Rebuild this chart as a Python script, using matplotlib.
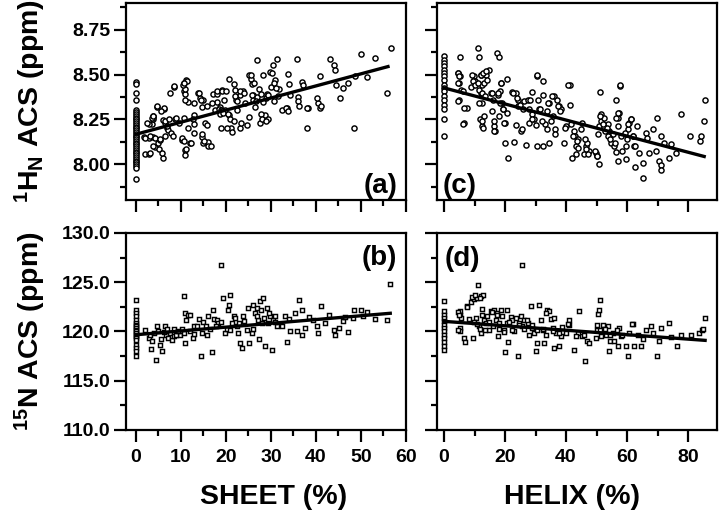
import matplotlib
matplotlib.use('Agg')
import matplotlib.pyplot as plt
from matplotlib.ticker import MultipleLocator, FormatStrFormatter

plt.rcParams['font.family'] = ['Liberation Sans', 'DejaVu Sans']
plt.rcParams['font.weight'] = 'bold'
plt.rcParams['mathtext.fontset'] = 'custom'
plt.rcParams['mathtext.rm'] = 'Liberation Sans:bold'
plt.rcParams['mathtext.bf'] = 'Liberation Sans:bold'
plt.rcParams['mathtext.it'] = 'Liberation Sans:bold'

# ---------------- data ----------------
# (a) SHEET % vs 1H_N ACS
a_strip_y = [8.46, 8.45, 8.40, 8.36, 8.30, 8.29, 8.28, 8.27, 8.26, 8.25, 8.24, 8.23, 8.22,
             8.21, 8.20, 8.19, 8.18, 8.17, 8.16, 8.15, 8.14, 8.13, 8.12, 8.11, 8.10, 8.09,
             8.08, 8.07, 8.06, 8.05, 8.04, 8.03, 8.02, 8.01, 8.00, 7.99, 7.98, 7.92]
a_sheet = [1.9, 2.8, 2.1, 3.0, 3.2, 3.6, 3.0, 4.7, 6.3, 3.8, 3.9, 4.3, 4.8, 5.4, 6.0, 6.1, 6.5,
           6.9, 7.2, 7.6, 8.5, 8.7, 7.8, 8.2, 9.5, 10.2, 10.6, 10.7, 10.9, 11.2, 11.5, 10.9,
           10.9, 11.5, 12.1, 12.8, 12.9, 13.9, 14.3, 14.6, 15.0, 14.6, 14.8, 15.4, 15.9, 16.1,
           16.1, 17.2, 17.6, 18.0, 18.1, 18.7, 19.1, 19.5, 19.8, 20.6, 20.6, 21.1, 21.3, 21.7,
           22.0, 22.3, 22.4, 23.2, 23.2, 23.9, 24.3, 24.6, 25.2, 25.2, 25.5, 25.7, 26.1, 26.5,
           26.9, 27.0, 27.4, 27.6, 28.2, 28.3, 28.7, 29.1, 29.4, 29.8, 30.0, 30.4, 30.9, 31.3,
           31.7, 32.4, 33.5, 33.7, 33.9, 34.2, 35.7, 36.1, 36.8, 37.2, 37.9, 38.3, 40.5, 40.9,
           40.8, 43.1, 43.9, 44.2, 44.5, 45.3, 45.9, 47.2, 48.5, 48.7, 50.0, 51.3, 53.1, 56.7,
           55.8, 3.7, 3.7, 18.5, 18.9, 19.2, 10.8, 10.5, 27.8, 28.8, 26.0,
           2.5, 3.6, 3.9, 4.7, 6.2, 5.5, 6.4, 6.9, 7.3, 2.1, 3.2, 4.3, 5.4, 6.5, 3.9, 5.1, 5.8,
           10.3, 10.7, 11.1, 12.2, 12.9, 14.7, 15.1, 16.6, 8.8, 10.7, 12.6, 13.0, 11.0, 11.4,
           10.7, 8.4, 14.0, 14.4, 15.8, 16.9, 18.1, 19.2, 20.0, 18.7, 19.3, 20.4, 20.8, 18.8,
           20.3, 21.8, 23.3, 22.1, 23.2, 24.0, 22.5, 25.5, 26.2, 25.8, 26.6, 27.7, 28.1, 28.9,
           29.3, 30.3, 30.7, 31.1, 31.5, 30.7, 33.3, 33.7, 35.9, 36.3, 38.1, 40.3, 41.1]
a_hn = [8.150, 8.145, 8.056, 8.056, 8.065, 8.224, 8.224, 8.320, 8.310, 8.265, 8.153, 8.098,
        8.117, 8.135, 8.033, 8.246, 8.228, 8.200, 8.190, 8.400, 8.430, 8.255, 8.172, 8.157,
        8.230, 8.135, 8.454, 8.410, 8.390, 8.470, 8.350, 8.080, 8.050, 8.200, 8.117, 8.274,
        8.340, 8.398, 8.367, 8.320, 8.357, 8.154, 8.117, 8.228, 8.219, 8.126, 8.102, 8.394,
        8.302, 8.348, 8.394, 8.320, 8.417, 8.357, 8.302, 8.478, 8.274, 8.200, 8.181, 8.450,
        8.413, 8.357, 8.302, 8.385, 8.200, 8.407, 8.339, 8.219, 8.265, 8.496, 8.478, 8.450,
        8.385, 8.320, 8.580, 8.376, 8.422, 8.228, 8.496, 8.348, 8.274, 8.394, 8.255, 8.515,
        8.432, 8.552, 8.469, 8.589, 8.422, 8.302, 8.311, 8.506, 8.450, 8.385, 8.589, 8.376,
        8.459, 8.441, 8.200, 8.311, 8.339, 8.311, 8.491, 8.589, 8.552, 8.528, 8.441, 8.367,
        8.428, 8.454, 8.200, 8.491, 8.617, 8.487, 8.594, 8.650, 8.400, 8.270, 8.255, 8.310,
        8.300, 8.295, 8.420, 8.440, 8.390, 8.370, 8.360,
        8.232, 8.259, 8.268, 8.324, 8.315, 8.296, 8.240, 8.213, 8.250, 8.148, 8.157, 8.148,
        8.139, 8.157, 8.102, 8.083, 8.065, 8.148, 8.130, 8.083, 8.120, 8.176, 8.167, 8.130,
        8.102, 8.259, 8.259, 8.250, 8.222, 8.361, 8.463, 8.454, 8.435, 8.398, 8.361, 8.324,
        8.343, 8.407, 8.407, 8.407, 8.278, 8.287, 8.278, 8.250, 8.204, 8.204, 8.241, 8.232,
        8.380, 8.407, 8.398, 8.352, 8.500, 8.454, 8.389, 8.352, 8.278, 8.250, 8.241, 8.389,
        8.509, 8.454, 8.426, 8.380, 8.352, 8.315, 8.296, 8.352, 8.324, 8.315, 8.370, 8.324]
a_fit = [8.167, 8.545]          # fitted line values at sheet = 0 and 56
a_fit_x = [0.0, 56.0]

# (c) HELIX % vs 1H_N ACS
c_strip_y = [8.602, 8.583, 8.565, 8.546, 8.528, 8.509, 8.491, 8.472, 8.444, 8.426, 8.407,
             8.380, 8.361, 8.333, 8.306, 8.250, 8.157]
c_helix = [5.3, 4.6, 5.3, 4.9, 5.5, 4.9, 6.6, 7.4, 8.8, 9.8, 10.3, 11.2, 11.4, 12.0, 12.6, 13.1,
           12.0, 12.3, 11.8, 12.6, 13.1, 13.7, 14.8, 14.2, 15.3, 15.9, 16.4, 16.6, 17.5, 18.1,
           17.7, 18.4, 18.8, 19.1, 19.5, 20.6, 20.8, 19.9, 18.1, 20.0, 21.0, 22.4, 23.5, 24.3,
           24.1, 23.0, 23.5, 25.2, 26.3, 27.4, 27.0, 27.9, 28.7, 29.0, 29.5, 30.1, 30.6, 30.6,
           30.9, 31.2, 32.3, 32.5, 32.6, 33.0, 33.7, 34.5, 34.5, 35.0, 35.9, 36.3, 37.2, 37.7,
           38.3, 39.2, 39.9, 41.3, 41.4, 41.6, 41.8, 42.5, 42.9, 43.2, 43.2, 43.8, 44.9, 45.4,
           45.9, 46.5, 47.0, 47.6, 49.8, 50.3, 50.9, 50.9, 51.2, 51.4, 51.6, 52.5, 53.6, 54.2,
           54.5, 54.7, 55.8, 56.3, 56.9, 57.1, 57.4, 57.8, 57.1, 56.3, 58.0, 58.5, 59.6, 60.0,
           60.2, 60.7, 61.3, 61.8, 62.4, 62.6, 63.2, 64.0, 65.1, 65.4, 66.2, 66.7, 67.3, 68.4,
           69.8, 69.5, 70.6, 71.1, 71.3, 71.3, 72.0, 73.9, 74.4, 76.0, 77.7, 80.7, 84.0, 84.2,
           85.1, 85.6,
           4.7, 5.0, 4.7, 4.7, 6.3, 6.6, 6.3, 9.1, 9.6, 10.0, 11.1, 11.6, 12.0, 12.8, 13.8,
           12.4, 13.5, 11.6, 12.4, 12.8, 15.6, 15.7, 17.7, 18.3, 18.8, 19.2, 19.8, 16.3, 16.3,
           22.7, 23.8, 24.9, 26.0, 25.5, 27.7, 28.3, 28.8, 30.4, 31.5, 32.1, 33.7, 34.2, 35.3,
           35.8, 36.4, 37.5, 38.0, 39.7, 40.8, 42.4, 43.5, 44.0, 46.1, 46.7, 47.2, 49.5, 50.0,
           50.6, 51.1, 52.2, 52.7, 53.3, 53.8, 54.3, 55.4, 55.9, 56.5, 57.0, 57.6, 59.2, 59.8,
           60.3, 61.4, 62.0, 62.5]
c_hn = [8.598, 8.509, 8.491, 8.454, 8.417, 8.361, 8.228, 8.315, 8.431, 8.491, 8.463, 8.648,
        8.596, 8.500, 8.444, 8.454, 8.398, 8.343, 8.250, 8.213, 8.269, 8.500, 8.524, 8.472,
        8.398, 8.361, 8.213, 8.185, 8.620, 8.598, 8.389, 8.407, 8.454, 8.343, 8.306, 8.476,
        8.287, 8.231, 8.269, 8.117, 8.037, 8.402, 8.398, 8.361, 8.324, 8.124, 8.217, 8.185,
        8.352, 8.361, 8.109, 8.306, 8.278, 8.402, 8.250, 8.217, 8.494, 8.102, 8.361, 8.306,
        8.463, 8.102, 8.389, 8.222, 8.296, 8.343, 8.117, 8.241, 8.380, 8.194, 8.361, 8.324,
        8.306, 8.117, 8.213, 8.444, 8.331, 8.222, 8.037, 8.185, 8.157, 8.102, 8.056, 8.139,
        8.194, 8.231, 8.056, 8.102, 8.120, 8.074, 8.065, 8.046, 8.000, 8.213, 8.402, 8.278,
        8.241, 8.259, 8.222, 8.185, 8.157, 8.120, 8.102, 8.361, 8.259, 8.213, 8.287, 8.435,
        8.019, 8.069, 8.157, 8.074, 8.028, 8.139, 8.194, 8.228, 8.254, 8.157, 8.102, 7.987,
        8.213, 8.065, 7.922, 8.009, 8.176, 8.148, 8.065, 8.194, 8.256, 8.074, 8.019, 7.996,
        8.157, 7.969, 8.120, 8.037, 8.111, 8.065, 8.278, 8.157, 8.130, 8.157, 8.241, 8.361,
        8.509, 8.491, 8.454, 8.352, 8.407, 8.315, 8.222, 8.500, 8.463, 8.444, 8.454, 8.417,
        8.500, 8.509, 8.519, 8.398, 8.380, 8.343, 8.241, 8.204, 8.398, 8.296, 8.398, 8.343,
        8.454, 8.306, 8.232, 8.241, 8.185, 8.398, 8.370, 8.333, 8.306, 8.194, 8.232, 8.361,
        8.250, 8.500, 8.306, 8.241, 8.194, 8.343, 8.380, 8.269, 8.167, 8.324, 8.296, 8.204,
        8.444, 8.157, 8.130, 8.093, 8.139, 8.083, 8.056, 8.074, 8.046, 8.167, 8.269, 8.222,
        8.185, 8.204, 8.157, 8.139, 8.167, 8.120, 8.259, 8.287, 8.444, 8.176, 8.102, 8.222,
        8.250, 8.157, 8.102]
c_fit = [8.426, 8.043]
c_fit_x = [0.0, 85.3]

# (b) SHEET % vs 15N ACS
b_strip_y = [123.2, 122.21, 121.87, 121.53, 121.2, 120.86, 120.7, 120.52, 120.35, 120.18,
             120.0, 119.84, 119.67, 119.5, 119.33, 119.16, 118.66, 118.32, 117.98, 117.47]
b_sheet = [2.1, 2.8, 3.2, 3.6, 3.4, 4.5, 4.7, 5.0, 5.3, 5.8, 6.5, 6.7, 7.2, 7.6, 8.0, 8.4, 8.5,
           9.8, 10.2, 10.6, 10.7, 10.8, 11.0, 11.2, 11.5, 12.1, 12.6, 12.9, 13.5, 14.0, 14.4,
           14.6, 15.0, 15.6, 15.9, 16.1, 16.9, 17.2, 17.4, 18.0, 18.3, 18.9, 19.3, 19.8, 20.2,
           20.4, 20.6, 20.9, 21.3, 21.7, 22.0, 22.4, 22.6, 23.2, 23.5, 23.7, 24.6, 25.0, 25.2,
           25.7, 26.1, 26.5, 26.9, 27.2, 27.4, 27.6, 27.9, 28.3, 28.5, 28.7, 29.1, 29.4, 29.8,
           30.2, 30.5, 30.9, 31.3, 32.4, 33.1, 33.5, 34.2, 35.4, 36.3, 36.9, 35.7, 36.9, 37.6,
           39.4, 40.2, 40.4, 41.1, 43.0, 43.9, 44.2, 45.2, 46.1, 47.2, 48.4, 48.3, 49.9, 51.3,
           53.1, 56.5, 55.8,
           4.0, 5.5, 6.2, 7.0, 8.8, 9.3, 12.0, 13.0, 16.5, 17.8, 19.0, 21.0, 22.8, 24.0, 26.0,
           27.0, 28.0, 29.6, 31.0, 34.0, 38.5, 42.0, 46.5, 50.5]
b_n15 = [120.18, 119.33, 119.67, 118.99, 118.22, 117.06, 120.59, 120.01, 118.66, 117.98,
         120.52, 119.67, 119.33, 119.84, 119.16, 120.25, 119.50, 119.67, 120.25, 123.57,
         119.84, 118.82, 121.87, 121.20, 121.70, 121.70, 119.33, 120.52, 120.59, 121.26,
         117.47, 119.84, 120.93, 120.52, 119.67, 121.53, 117.88, 122.14, 121.26, 121.20,
         120.86, 126.78, 123.40, 119.84, 120.25, 122.21, 122.72, 123.74, 120.86, 121.53,
         121.36, 120.52, 119.84, 118.82, 118.32, 121.53, 120.18, 122.38, 118.82, 119.84,
         122.72, 121.87, 122.38, 121.20, 119.23, 123.06, 122.21, 123.40, 121.36, 118.49,
         122.38, 120.86, 121.53, 118.15, 121.20, 121.53, 120.52, 120.52, 121.53, 118.89,
         120.01, 121.87, 123.16, 122.14, 120.01, 119.67, 120.35, 121.20, 120.59, 119.84,
         122.55, 121.70, 120.18, 119.67, 120.35, 121.02, 119.91, 122.21, 121.36, 122.14,
         121.94, 121.26, 124.80, 121.20,
         119.8, 119.2, 119.9, 120.3, 119.6, 120.1, 120.0, 119.7, 120.3, 120.6, 121.0, 120.2,
         120.9, 121.1, 120.3, 121.6, 120.9, 121.9, 121.0, 121.3, 121.5, 120.9, 121.5, 121.6]
b_fit = [119.67, 121.85]
b_fit_x = [0.0, 56.5]

# (d) HELIX % vs 15N ACS
d_strip_y = [123.13, 122.04, 121.70, 121.36, 121.03, 120.69, 120.35, 120.01, 119.67, 119.33,
             118.89, 118.49, 118.15]
d_helix = [5.3, 5.3, 5.5, 5.3, 5.3, 6.6, 6.8, 7.4, 8.2, 8.8, 9.4, 9.8, 10.4, 10.9, 11.3, 11.5,
           12.0, 12.0, 12.6, 12.9, 13.1, 13.7, 14.2, 14.8, 15.3, 15.9, 16.4, 17.0, 17.5, 17.7,
           18.1, 18.6, 19.1, 19.7, 19.9, 20.6, 20.8, 21.1, 21.9, 22.4, 23.0, 23.5, 24.1, 24.6,
           25.2, 25.5, 25.7, 26.3, 27.4, 27.9, 28.4, 29.0, 29.5, 30.1, 30.6, 31.2, 31.7, 32.3,
           32.8, 33.4, 33.9, 34.4, 35.0, 35.6, 36.1, 36.1, 36.7, 37.7, 38.3, 38.8, 39.9, 41.0,
           41.0, 42.5, 43.8, 44.3, 45.4, 45.9, 46.3, 47.0, 47.6, 49.8, 50.1, 50.5, 50.9, 51.2,
           51.4, 52.0, 52.5, 53.1, 53.6, 54.2, 54.5, 55.3, 55.8, 56.9, 57.4, 58.0, 59.6, 60.2,
           60.7, 61.8, 62.4, 63.5, 64.6, 65.1, 66.2, 67.8, 68.4, 69.8, 70.6, 71.1, 73.9, 74.4,
           76.4, 77.7, 81.0, 83.7, 84.5, 85.6, 84.9,
           4.7, 5.0, 4.7, 7.4, 9.1, 10.2, 11.8, 9.7, 10.9, 11.9, 12.5, 13.6, 14.7, 15.8, 17.4,
           18.0, 19.6, 21.3, 22.4, 24.5, 26.2, 27.3, 28.9, 30.6, 32.3, 33.4, 35.6, 37.8, 40.6,
           43.3, 50.1, 51.2, 52.8, 54.5, 56.7, 58.4, 61.6]
d_n15 = [122.04, 121.70, 121.36, 120.35, 120.01, 119.33, 118.89, 122.55, 121.26, 122.96,
         119.33, 123.29, 121.36, 123.40, 124.75, 120.52, 123.57, 119.84, 122.28, 123.74,
         121.20, 120.86, 121.53, 120.18, 122.04, 120.52, 122.14, 121.20, 121.87, 119.50,
         120.86, 122.21, 121.53, 120.18, 117.88, 122.14, 120.86, 118.89, 121.47, 121.20,
         120.01, 121.36, 117.47, 120.86, 121.53, 126.78, 120.52, 121.20, 120.86, 119.67,
         122.55, 120.35, 119.84, 118.00, 118.82, 122.72, 121.20, 120.18, 118.82, 119.67,
         122.21, 122.04, 121.26, 120.35, 121.36, 118.32, 119.84, 118.49, 119.50, 120.45,
         119.84, 121.20, 120.69, 118.15, 119.84, 122.04, 119.50, 119.67, 116.96, 118.99,
         118.82, 119.33, 120.18, 121.80, 122.21, 123.23, 119.50, 120.69, 120.18, 119.67,
         120.52, 118.00, 118.99, 119.84, 118.99, 118.49, 120.35, 119.50, 118.49, 117.47,
         119.84, 120.79, 118.49, 119.67, 118.49, 119.20, 120.18, 120.52, 119.84, 117.54,
         118.99, 120.35, 120.86, 119.43, 118.55, 119.67, 119.67, 119.84, 120.18, 121.36,
         120.25,
         122.02, 121.68, 120.16, 122.53, 123.54, 123.70, 123.37, 120.98, 120.80, 120.30,
         121.68, 120.16, 120.98, 122.02, 121.68, 120.30, 119.96, 120.98, 120.16, 120.64,
         120.30, 121.14, 120.64, 120.16, 120.30, 121.85, 120.00, 119.82, 120.80, 119.50,
         120.67, 120.16, 120.30, 119.65, 120.16, 119.65, 120.80]
d_fit = [121.03, 119.10]
d_fit_x = [0.0, 85.6]

sheet_ticks = [0, 10, 20, 30, 40, 50, 60]
helix_ticks = [0, 20, 40, 60, 80]
hn_ticks = [8.00, 8.25, 8.50, 8.75]
n15_ticks = [110.0, 115.0, 120.0, 125.0, 130.0]

# ---------------- figure ----------------
W, H = 720, 514
fig = plt.figure(figsize=(W / 100, H / 100), dpi=100)

def rect(x0, y0, x1, y1):
    return [x0 / W, 1 - y1 / H, (x1 - x0) / W, (y1 - y0) / H]

ax_a = fig.add_axes(rect(126, 3, 406, 200))
ax_c = fig.add_axes(rect(437, 3, 717, 200))
ax_b = fig.add_axes(rect(126, 233, 406, 430))
ax_d = fig.add_axes(rect(437, 233, 717, 430))

def style(ax):
    for s in ax.spines.values():
        s.set_linewidth(1.6)
    ax.tick_params(which='both', direction='out', width=1.6, labelsize=14)
    ax.tick_params(axis='x', which='major', length=8.5, pad=5)
    ax.tick_params(axis='x', which='minor', length=4)
    ax.tick_params(axis='y', which='major', length=8.5, pad=3)
    ax.tick_params(axis='y', which='minor', length=4)
    for lab in ax.get_xticklabels() + ax.get_yticklabels():
        lab.set_fontweight('bold')

circ = dict(marker='o', ms=3.7, mfc='white', mec='black', mew=1.05, ls='none', zorder=3)
sq = dict(marker='s', ms=3.4, mfc='white', mec='black', mew=1.05, ls='none', zorder=3)

ax_a.plot([0] * len(a_strip_y), a_strip_y, **circ)
ax_a.plot(a_sheet, a_hn, **circ)
ax_a.plot(a_fit_x, a_fit, color='black', lw=2.4, zorder=4)

ax_c.plot([0] * len(c_strip_y), c_strip_y, **circ)
ax_c.plot(c_helix, c_hn, **circ)
ax_c.plot(c_fit_x, c_fit, color='black', lw=2.4, zorder=4)

ax_b.plot([0] * len(b_strip_y), b_strip_y, **sq)
ax_b.plot(b_sheet, b_n15, **sq)
ax_b.plot(b_fit_x, b_fit, color='black', lw=2.4, zorder=4)

ax_d.plot([0] * len(d_strip_y), d_strip_y, **sq)
ax_d.plot(d_helix, d_n15, **sq)
ax_d.plot(d_fit_x, d_fit, color='black', lw=2.4, zorder=4)

for ax in (ax_a, ax_b):
    ax.set_xlim(-2.2, 60)
    ax.set_xticks(sheet_ticks)
    ax.xaxis.set_minor_locator(MultipleLocator(5))
for ax in (ax_c, ax_d):
    ax.set_xlim(-2.3, 89.5)
    ax.set_xticks(helix_ticks)
    ax.xaxis.set_minor_locator(MultipleLocator(10))
for ax in (ax_a, ax_c):
    ax.set_ylim(7.8, 8.9)
    ax.set_yticks(hn_ticks)
    ax.yaxis.set_minor_locator(MultipleLocator(0.125))
    ax.yaxis.set_major_formatter(FormatStrFormatter('%.2f'))
    ax.set_xticklabels([])
for ax in (ax_b, ax_d):
    ax.set_ylim(110, 130)
    ax.set_yticks(n15_ticks)
    ax.yaxis.set_minor_locator(MultipleLocator(2.5))
    ax.yaxis.set_major_formatter(FormatStrFormatter('%.1f'))
for ax in (ax_c, ax_d):
    ax.set_yticklabels([])

for ax in (ax_a, ax_b, ax_c, ax_d):
    style(ax)

lab_kw = dict(fontsize=20, fontweight='bold')
ax_a.text(0.968, 0.036, '(a)', transform=ax_a.transAxes, ha='right', va='baseline', **lab_kw)
ax_c.text(0.021, 0.036, '(c)', transform=ax_c.transAxes, ha='left', va='baseline', **lab_kw)
ax_b.text(0.968, 0.838, '(b)', transform=ax_b.transAxes, ha='right', va='baseline', **lab_kw)
ax_d.text(0.029, 0.835, '(d)', transform=ax_d.transAxes, ha='left', va='baseline', **lab_kw)

fig.text(274 / W, 1 - 497 / H, 'SHEET (%)', ha='center', va='center', fontsize=20.5, fontweight='bold')
fig.text(572 / W, 1 - 497 / H, 'HELIX (%)', ha='center', va='center', fontsize=20.5, fontweight='bold')
fig.text(30 / W, 1 - 101 / H, r'$\mathbf{^{1}H_{N}}$ ACS (ppm)', rotation=90,
         ha='center', va='center', fontsize=20.5, fontweight='bold')
fig.text(30 / W, 1 - 331 / H, r'$\mathbf{^{15}N}$ ACS (ppm)', rotation=90,
         ha='center', va='center', fontsize=20.5, fontweight='bold')

fig.savefig('out.png', dpi=100)
